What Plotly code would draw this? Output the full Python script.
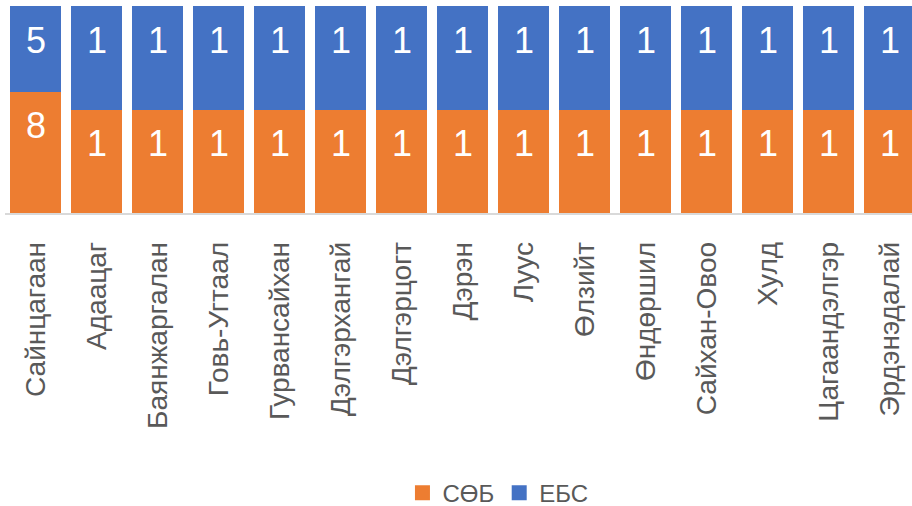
import plotly.graph_objects as go

categories = ["Сайнцагаан", "Адаацаг", "Баянжаргалан", "Говь-Угтаал", "Гурвансайхан",
              "Дэлгэрхангай", "Дэлгэрцогт", "Дэрэн", "Луус", "Өлзийт", "Өндөршил",
              "Сайхан-Овоо", "Хулд", "Цагаандэлгэр", "Эрдэнэдалай"]
sob = [7.6, 1, 1, 1, 1, 1, 1, 1, 1, 1, 1, 1, 1, 1, 1]
ebs = [5.4, 1, 1, 1, 1, 1, 1, 1, 1, 1, 1, 1, 1, 1, 1]
series_names = ["СӨБ", "ЕБС"]

ORANGE = "#ED7D31"
BLUE = "#4472C4"
FONT = "Liberation Sans, Arial"

fig = go.Figure()
for name, vals, col in zip(series_names, [sob, ebs], [ORANGE, BLUE]):
    fig.add_trace(go.Bar(x=categories, y=vals, name=name, showlegend=False,
                         hoverinfo="skip",
                         marker=dict(color=col, line=dict(width=0))))
# legend entries with larger square swatches
for name, col in zip(series_names, [ORANGE, BLUE]):
    fig.add_trace(go.Scatter(x=[None], y=[None], mode="markers", name=name,
                             marker=dict(symbol="square", size=15, color=col)))

# value labels placed just inside the top of each segment
for i, c in enumerate(categories):
    tot = sob[i] + ebs[i]
    tops = [sob[i] / tot * 100, 100.0]
    for val, top in zip([sob[i], ebs[i]], tops):
        fig.add_annotation(x=c, y=top, text=f"{val:.0f}", showarrow=False,
                           yanchor="middle", yshift=-34,
                           font=dict(family=FONT, size=36, color="white"))

n = len(categories)
fig.update_layout(
    width=912, height=506,
    barmode="stack", barnorm="percent", bargap=0.18,
    margin=dict(l=5, r=0, t=6, b=293, autoexpand=False),
    paper_bgcolor="white", plot_bgcolor="white",
    font=dict(family=FONT, color="#595959"),
    showlegend=True,
    legend=dict(orientation="h", x=0.5435, xanchor="center", y=-1.353, yanchor="middle",
                traceorder="normal", font=dict(size=24, color="#595959"),
                itemwidth=30, bgcolor="rgba(0,0,0,0)"),
    xaxis=dict(type="category", range=[-0.5, n - 0.5 - 8 / 61], tickangle=-90,
               showline=True, linecolor="#D9D9D9", linewidth=1.5,
               ticks="", tickfont=dict(size=28, color="#595959"),
               ticklabelstandoff=16, showgrid=False, automargin=False),
    yaxis=dict(range=[0, 100], visible=False, showgrid=False, automargin=False),
)

fig.write_html("out.html", config={"displayModeBar": False},
               post_script="document.body.style.margin='0';document.body.style.overflow='hidden';")
